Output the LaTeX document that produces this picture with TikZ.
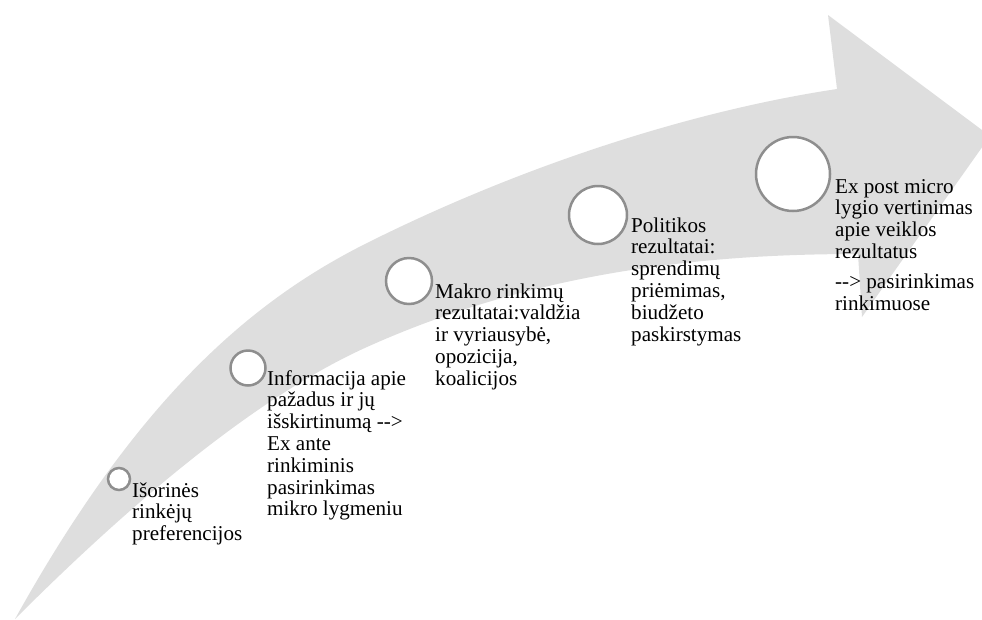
\documentclass[tikz,border=0pt]{standalone}
\usepackage{fontspec}
\setmainfont{Liberation Serif}
\newcommand\arrowtxt{-\kern0pt-\kern0pt>}
\newcommand\txtlines[1]{\parbox[t]{300pt}{\raggedright #1}}
\definecolor{arrowgray}{RGB}{222,222,222}
\definecolor{ringgray}{RGB}{142,142,142}
\tikzset{
  ring/.style={circle, draw=ringgray, line width=2.5pt, fill=white, inner sep=0pt},
  txt/.style={anchor=base west, inner sep=0pt, font=\fontsize{21.1}{21.8}\selectfont}
}
\begin{document}
\begin{tikzpicture}[x=1pt,y=-1pt]
\useasboundingbox (0,0) rectangle (982,619);
\clip (0,0) rectangle (982,619);
% curved arrow band
\fill[arrowgray] (15,619)
  .. controls (135,403) and (247,303) .. (367,243)
  .. controls (517,168) and (687,111.5) .. (837,89)
  -- (828,15) -- (990,136) -- (862,317) -- (858,254)
  .. controls (708,254) and (537,270.5) .. (367,347)
  .. controls (247,401) and (115,519) .. (15,619)
  -- cycle;
% circles
\node[ring, minimum size=22pt] (c1) at (119,479) {};
\node[ring, minimum size=35pt] (c2) at (248,368) {};
\node[ring, minimum size=46pt] (c3) at (409,281) {};
\node[ring, minimum size=58pt] (c4) at (598,215) {};
\node[ring, minimum size=74pt] (c5) at (793,174) {};
% texts
\node[txt] (t1) at (132,497) {\txtlines{Išorinės\\rinkėjų\\preferencijos}};
\node[txt] (t2) at (267,385) {\txtlines{Informacija apie\\pažadus ir jų\\išskirtinumą \arrowtxt\\Ex ante\\rinkiminis\\pasirinkimas\\mikro lygmeniu}};
\node[txt] (t3) at (435,298) {\txtlines{Makro rinkimų\\rezultatai:valdžia\\ir vyriausybė,\\opozicija,\\koalicijos}};
\node[txt] (t4) at (631,232) {\txtlines{Politikos\\rezultatai:\\sprendimų\\priėmimas,\\biudžeto\\paskirstymas}};
\node[txt] (t5) at (835,193) {\txtlines{Ex post micro\\lygio vertinimas\\apie veiklos\\rezultatus\\[8.5pt]\arrowtxt{} pasirinkimas\\rinkimuose}};
\end{tikzpicture}
\end{document}
